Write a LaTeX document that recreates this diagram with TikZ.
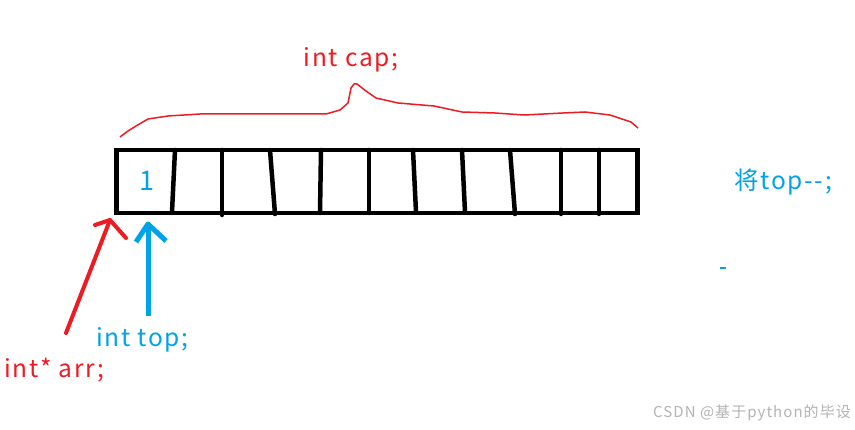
\documentclass[tikz,border=0pt]{standalone}
\usepackage{fontspec}
\setmainfont{Noto Sans CJK SC}[LetterSpace=7]
\definecolor{pred}{HTML}{ED1C24}
\definecolor{pblue}{HTML}{00A2E8}
\definecolor{wgray}{HTML}{B4B4B4}
\begin{document}
\begin{tikzpicture}[x=1pt,y=-1pt,
  cell/.style={line width=4.5pt,line cap=round},
  redtxt/.style={text=pred,font=\fontsize{24.5}{26}\selectfont,inner sep=0pt},
  bluetxt/.style={text=pblue,font=\fontsize{24.5}{26}\selectfont,inner sep=0pt},
  redarrow/.style={draw=pred,line width=4pt,line cap=round,line join=round},
  bluearrow/.style={draw=pblue,line width=5pt,line join=round},
  brace/.style={draw=pred,line width=1.5pt,line join=round}]
\useasboundingbox (0,0) rectangle (855,430);
\fill[white] (0,0) rectangle (855,430);
% array
\node[draw,line width=4.5pt,minimum width=521pt,minimum height=63pt,inner sep=0pt,anchor=north west] (arr) at (114,148) {};
\draw[cell] (175,150) -- (172,212);
\draw[cell] (222,150) -- (222,215);
\draw[cell] (270,150) -- (275,214);
\draw[cell] (321,150) -- (320,213);
\draw[cell] (369,150) -- (369,213);
\draw[cell] (413,150) -- (416,212);
\draw[cell] (462,150) -- (465,212);
\draw[cell] (510,150) -- (515,214);
\draw[cell] (561,150) -- (561,214);
\draw[cell] (599,150) -- (599,214);
\node[text=pblue,font=\fontsize{27}{28}\selectfont,inner sep=0pt] (one) at (147,181) {1};
% brace
\draw[brace] (120,137) -- (128,131) -- (136,126) -- (148,119) -- (168,116) -- (200,114) -- (326,114) -- (340,110) -- (348,103) -- (351,88) -- (354,84) -- (357,84) -- (366,91) -- (376,98) -- (398,103) -- (434,106) -- (462,112) -- (495,113) -- (524,115) -- (563,113) -- (585,112) -- (610,115) -- (631,122) -- (638,128);
\node[redtxt] (cap) at (351,60) {int cap;};
% red arrow
\node[redtxt,anchor=west] (arrlbl) at (4,370) {int* arr;};
\coordinate (rtail) at (66,333);
\coordinate (rtip) at (110,220);
\draw[redarrow] (rtail) -- (rtip);
\draw[redarrow] (95,225) -- (rtip) -- (126,238);
% blue arrow
\node[bluetxt,anchor=west] (toplbl) at (96,340) {int top;};
\coordinate (btail) at (148,316);
\coordinate (btip) at (148,224);
\draw[bluearrow] (btail) -- (btip);
\draw[bluearrow] (136,242) -- (btip) -- (166,241);
% right note
\node[bluetxt,anchor=west] (note) at (734,182) {将top-{}-;};
\draw[pblue,line width=1.5pt] (720,268) -- (726,268);
% watermark
\node[text=wgray,font=\fontsize{15}{16}\selectfont,anchor=east,inner sep=0pt] (wm) at (851,413) {CSDN @基于python的毕设};
\end{tikzpicture}
\end{document}
